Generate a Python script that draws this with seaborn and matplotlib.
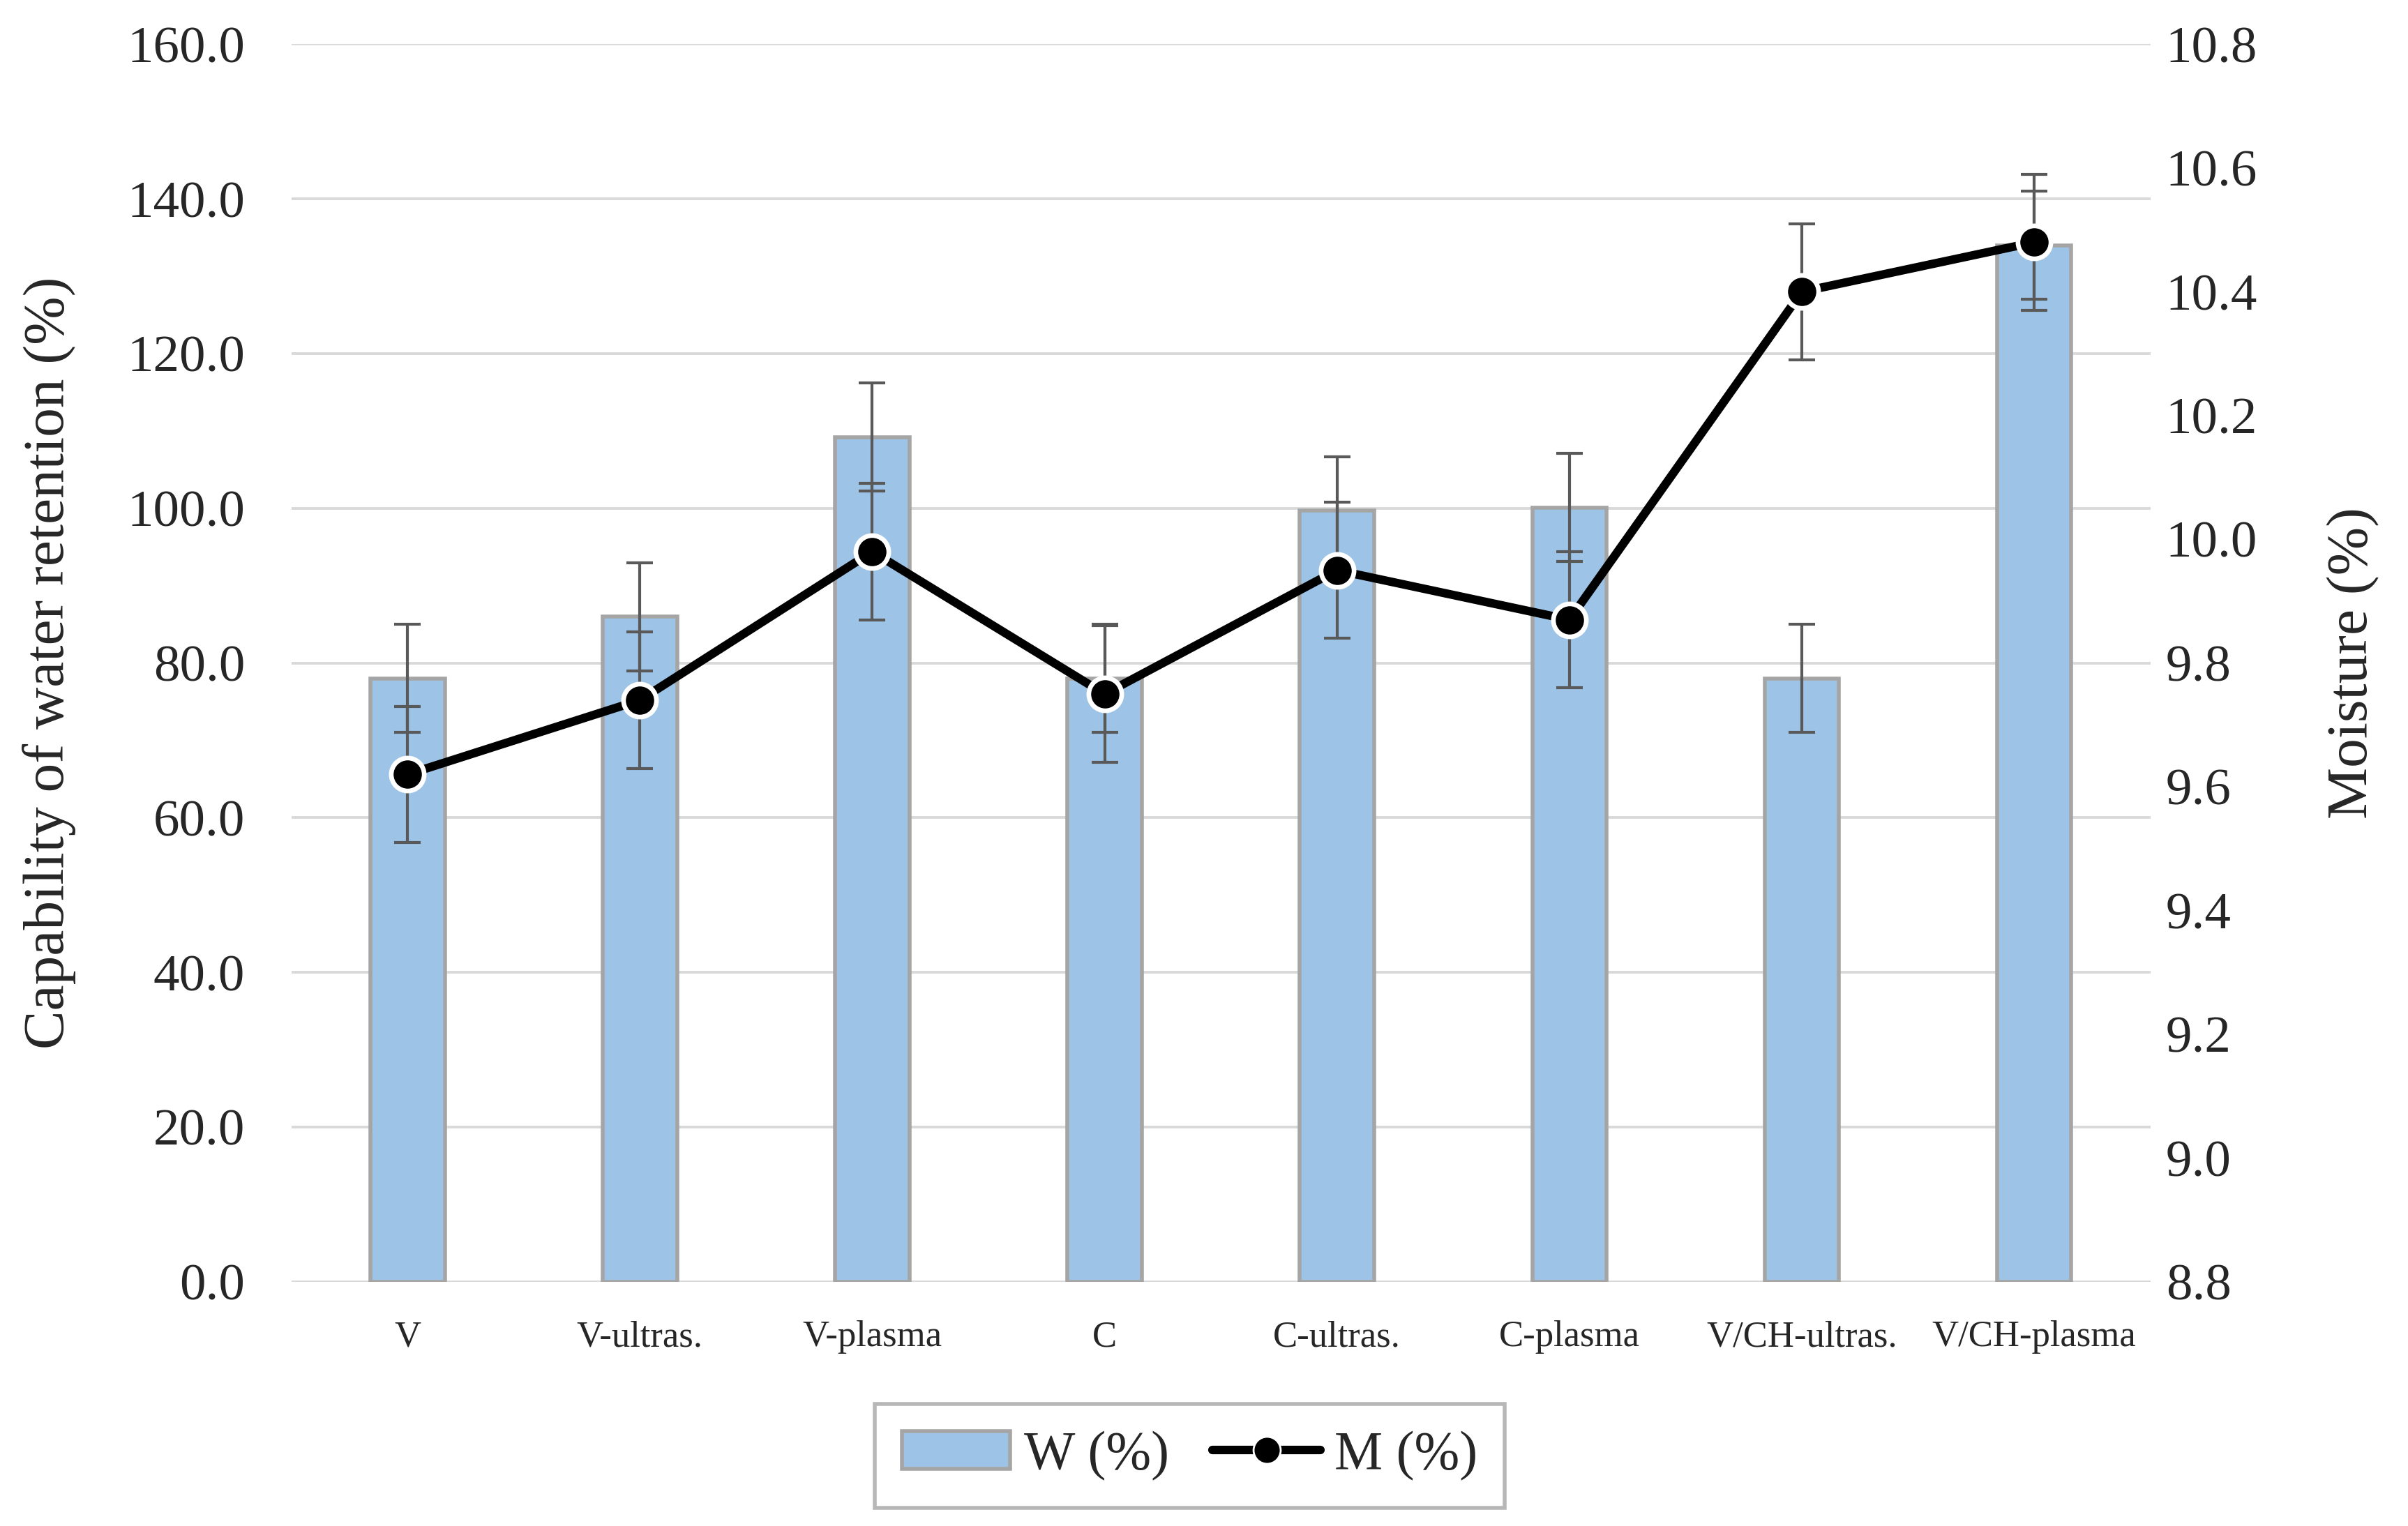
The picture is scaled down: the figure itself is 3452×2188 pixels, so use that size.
import numpy as np
import pandas as pd
import matplotlib
matplotlib.use('Agg')
import matplotlib.pyplot as plt
from matplotlib.lines import Line2D
from matplotlib.patches import Patch
import seaborn as sns

# values
samples = ['V', 'V-ultras.', 'V-plasma', 'C', 'C-ultras.', 'C-plasma', 'V/CH-ultras.', 'V/CH-plasma']
w_vals = [78.0, 86.0, 109.2, 78.0, 99.7, 100.1, 78.0, 134.0]
w_err = [7.0, 7.0, 7.0, 7.0, 7.0, 7.0, 7.0, 7.0]
m_vals = [9.62, 9.74, 9.98, 9.75, 9.95, 9.87, 10.40, 10.48]
m_err = [0.11, 0.11, 0.11, 0.11, 0.11, 0.11, 0.11, 0.11]

df = pd.DataFrame({'sample': samples, 'W': w_vals, 'M': m_vals})

sns.set_theme(style='white')
plt.rcParams['font.family'] = ['Liberation Serif', 'DejaVu Serif']

bar_color = '#9dc3e6'
bar_edge = '#a5a5a5'
err_color = '#595959'

fig, ax = plt.subplots(figsize=(17.26, 10.94), dpi=200)
fig.subplots_adjust(left=0.121, right=0.893, top=0.971, bottom=0.160)

sns.barplot(data=df, x='sample', y='W', color=bar_color, edgecolor=bar_edge,
            linewidth=2.0, width=0.32, saturation=1, ax=ax, zorder=2)
xpos = np.arange(len(samples))
ax.errorbar(xpos, df['W'], yerr=w_err, fmt='none', ecolor=err_color,
            elinewidth=1.5, capsize=6.7, capthick=1.5, zorder=3)

ax.set_ylim(0, 160)
ax.set_yticks(np.arange(0, 161, 20))
ax.set_yticklabels([f'{v:.1f}' for v in np.arange(0, 161, 20)], fontsize=27)
ax.set_xlim(-0.5, len(samples) - 0.5)
ax.tick_params(axis='x', labelsize=19, length=0, pad=20)
ax.tick_params(axis='y', length=0, pad=24)
ax.yaxis.grid(True, color='#d9d9d9', linewidth=1.4, zorder=0)
ax.set_axisbelow(True)
ax.set_xlabel('')
ax.set_ylabel('Capability of water retention (%)', fontsize=30)
ax.yaxis.set_label_coords(-0.116, 0.5)
for s in ax.spines.values():
    s.set_visible(False)

ax2 = ax.twinx()
ax2.errorbar(xpos, df['M'], yerr=m_err, fmt='none', ecolor=err_color,
             elinewidth=1.5, capsize=6.7, capthick=1.5, zorder=2)
sns.lineplot(x=xpos, y=df['M'], ax=ax2, color='black', linewidth=4.4,
             marker='o', markersize=17, markerfacecolor='black',
             markeredgecolor='white', markeredgewidth=2.4, zorder=3)
ax2.set_ylim(8.8, 10.8)
rticks = np.round(np.arange(8.8, 10.81, 0.2), 1)
ax2.set_yticks(rticks)
ax2.set_yticklabels([f'{v:.1f}' for v in rticks], fontsize=27)
ax2.tick_params(axis='y', length=0, pad=8)
ax2.grid(False)
ax2.set_ylabel('Moisture (%)', fontsize=30)
ax2.yaxis.set_label_coords(1.095, 0.5)
for s in ax2.spines.values():
    s.set_visible(False)
ax.set_xlim(-0.5, len(samples) - 0.5)

handles = [Patch(facecolor=bar_color, edgecolor=bar_edge, linewidth=2.0, label='W (%)'),
           Line2D([0], [0], color='black', linewidth=4.4, marker='o', markersize=14,
                  markerfacecolor='black', markeredgecolor='white', label='M (%)')]
leg = fig.legend(handles=handles, loc='center', bbox_to_anchor=(0.494, 0.046), ncol=2,
                 fontsize=28, frameon=True, fancybox=False, handlelength=2.0,
                 handletextpad=0.25, columnspacing=0.8, borderpad=0.5)
leg.get_frame().set_edgecolor('#a5a5a5')
leg.get_frame().set_linewidth(2.0)

fig.savefig('out.png', dpi=200)
